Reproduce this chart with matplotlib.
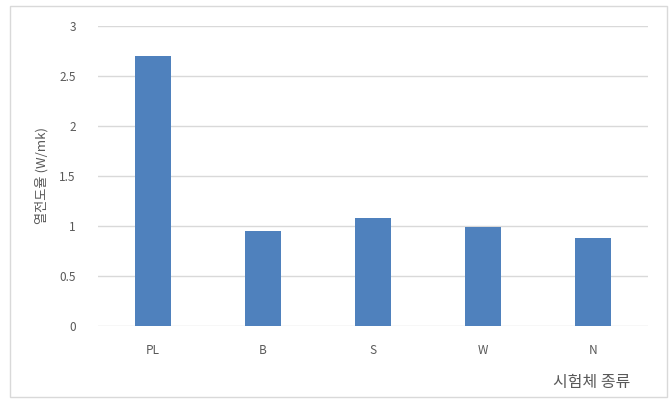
import matplotlib
matplotlib.use("Agg")
import matplotlib.pyplot as plt
from matplotlib.patches import Rectangle

plt.rcParams['font.family'] = ['Noto Sans CJK KR', 'DejaVu Sans']

# data
categories = ['PL', 'B', 'S', 'W', 'N']
values = [2.70, 0.95, 1.08, 0.99, 0.88]
yticks = [0, 0.5, 1, 1.5, 2, 2.5, 3]
ytick_labels = ['0', '0.5', '1', '1.5', '2', '2.5', '3']

txt = '#595959'

fig = plt.figure(figsize=(6.69, 3.99), dpi=100)
# outer chart frame
fig.patches.append(Rectangle((10 / 669, 0.005), 657 / 669, 1 - 6 / 399 - 0.005,
                             transform=fig.transFigure, fill=False,
                             edgecolor='#d9d9d9', linewidth=1))

ax = fig.add_axes([98 / 669, 1 - 326 / 399, 550 / 669, 300 / 399])
x = range(len(categories))
ax.bar(x, values, width=0.33, color='#4f81bd', zorder=3)

ax.set_xlim(-0.5, len(categories) - 0.5)
ax.set_ylim(0, 3)
ax.set_yticks(yticks)
ax.set_yticklabels(ytick_labels)
ax.set_xticks(list(x))
ax.set_xticklabels(categories)
ax.grid(axis='y', color='#d9d9d9', linewidth=1, zorder=0)
for s in ax.spines.values():
    s.set_visible(False)
ax.tick_params(length=0, colors=txt, labelsize=8.5)
ax.tick_params(axis='x', pad=13)
ax.tick_params(axis='y', pad=16)

ax.set_ylabel('열전도율 (W/mk)', color=txt, fontsize=9.5, labelpad=8)
fig.text(630 / 669, 1 - 383 / 399, '시험체 종류', color=txt, fontsize=11.5,
         ha='right', va='center')

fig.savefig('out.png', dpi=100)
